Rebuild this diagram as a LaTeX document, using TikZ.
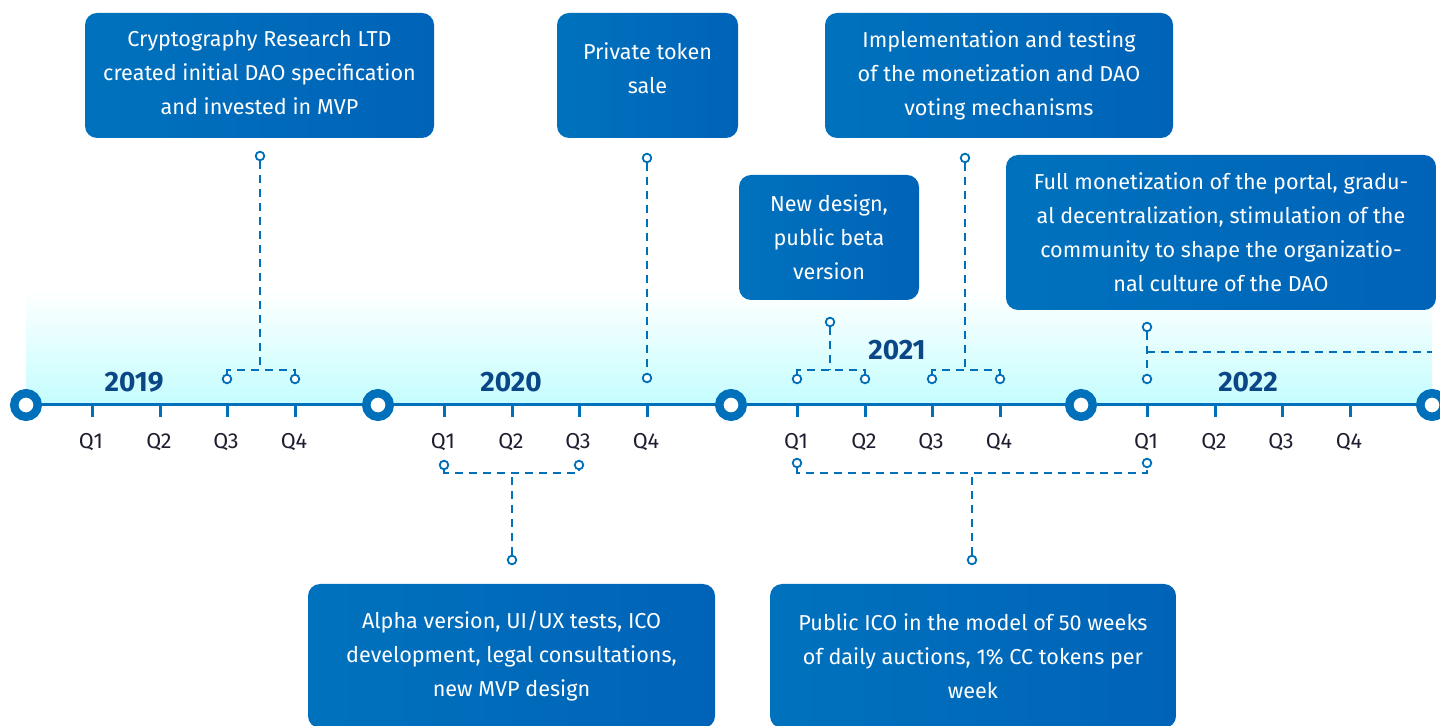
\documentclass[tikz,border=0pt]{standalone}
\usepackage{fontspec}
\setmainfont{Fira Sans}
\usepackage{xcolor}
\usepackage{tikz}

\definecolor{tl}{RGB}{0,112,186}
\definecolor{boxl}{RGB}{0,114,189}
\definecolor{boxr}{RGB}{0,99,184}
\definecolor{band}{RGB}{196,253,254}
\definecolor{yearblue}{RGB}{11,70,135}
\definecolor{qgray}{RGB}{30,30,48}

\tikzset{
  box/.style={rectangle,rounded corners=6pt,left color=boxl,right color=boxr,
    text=white,align=center,inner sep=0pt,
    font=\fontsize{10.8}{17}\selectfont},
  yearmark/.style={circle,draw=tl,fill=white,line width=4.25pt,inner sep=0pt,minimum size=11.75pt},
  pin/.style={circle,draw=tl,fill=white,line width=0.9pt,inner sep=0pt,minimum size=4.3pt},
  link/.style={draw=tl,line width=1.25pt,dash pattern=on 4pt off 3pt},
  axis/.style={draw=tl,line width=1.5pt},
  year/.style={text=yearblue,font=\bfseries\fontsize{14}{14}\selectfont},
  qlab/.style={text=qgray,font=\fontsize{10.8}{12}\selectfont}
}

\begin{document}
\begin{tikzpicture}[x=0.5pt,y=-0.5pt]
\path[use as bounding box] (0,0) rectangle (1440,726);
\clip (0,0) rectangle (1440,726);

% year bands
\shade[top color=white,bottom color=band] (26,290) rectangle (377.5,405);
\shade[top color=white,bottom color=band] (378.5,290) rectangle (730.5,405);
\shade[top color=white,bottom color=band] (731.5,290) rectangle (1080.5,405);
\shade[top color=white,bottom color=band] (1081.5,290) rectangle (1432,405);

% timeline
\node (y19) at (26,405) [yearmark] {};
\node (y20) at (378,405) [yearmark] {};
\node (y21) at (731,405) [yearmark] {};
\node (y22) at (1081,405) [yearmark] {};
\node (y23) at (1432,405) [yearmark] {};
\coordinate (end) at (1440,405);
\draw[axis] (y19) -- (y20) -- (y21) -- (y22) -- (y23) -- (end);

\foreach \yr/\x in {19/26,20/378,21/731,22/1081} {
  \foreach \q/\d in {1/66,2/134,3/201,4/269} {
    \draw[axis] (\x+\d,405) -- ++(0,12);
    \node (q\yr\q) at (\x+\d-1,442) [qlab] {Q\q};
  }
}

\node (t19) at (134,382) [year] {2019};
\node (t20) at (511,382) [year] {2020};
\node (t21) at (897,350) [year] {2021};
\node (t22) at (1248,382) [year] {2022};

% boxes
\node (b1) at (259.5,75.5) [box,minimum width=174.5pt,minimum height=62.5pt]
  {Cryptography Research LTD\\created initial DAO specification\\and invested in MVP\\[-14pt]};
\node (b2) at (647.5,75.5) [box,minimum width=90.5pt,minimum height=62.5pt]
  {Private token\\sale\\[-10pt]};
\node (b3) at (999,75.5) [box,minimum width=174pt,minimum height=62.5pt]
  {Implementation and testing\\of the monetization and DAO\\voting mechanisms};
\node (b4) at (829,237.5) [box,minimum width=90pt,minimum height=62.5pt]
  {New design,\\public beta\\version};
\node (b5) at (1221,232.5) [box,minimum width=215pt,minimum height=77.5pt]
  {Full monetization of the portal, gradu-\\al decentralization, stimulation of the\\community to shape the organizatio-\\nal culture of the DAO};
\node (b6) at (511.5,656) [box,minimum width=203.5pt,minimum height=72pt]
  {Alpha version, UI/UX tests, ICO\\development, legal consultations,\\new MVP design};
\node (b7) at (973,656) [box,minimum width=203pt,minimum height=72pt]
  {Public ICO in the model of 50 weeks\\of daily auctions, 1\% CC tokens per\\week};

% pins
\node (k1) at (260,156) [pin] {};
\node (k1a) at (227,379) [pin] {};
\node (k1b) at (295,379) [pin] {};
\coordinate (j1) at (260,370);
\node (k2) at (647,158) [pin] {};
\node (k2a) at (647,378) [pin] {};
\node (k3) at (965,158) [pin] {};
\node (k3a) at (932,379) [pin] {};
\node (k3b) at (1000,379) [pin] {};
\coordinate (j3) at (965,370);
\node (k4) at (830,322) [pin] {};
\node (k4a) at (797,379) [pin] {};
\node (k4b) at (865,379) [pin] {};
\coordinate (j4) at (830,370);
\node (k5) at (1147,327) [pin] {};
\node (k5a) at (1147,379) [pin] {};
\coordinate (j5) at (1147,352);
\coordinate (e5) at (1432,352);
\node (k6) at (512,560) [pin] {};
\node (k6a) at (444,465) [pin] {};
\node (k6b) at (579,465) [pin] {};
\coordinate (j6) at (512,473);
\node (k7) at (972,560) [pin] {};
\node (k7a) at (797,463) [pin] {};
\node (k7b) at (1147,463) [pin] {};
\coordinate (j7) at (972,473);

% links
\draw[link] (k1) -- (j1);
\draw[link] (k1a) |- (j1) -| (k1b);
\draw[link] (k2) -- (k2a);
\draw[link] (k3) -- (j3);
\draw[link] (k3a) |- (j3) -| (k3b);
\draw[link] (k4) -- (j4);
\draw[link] (k4a) |- (j4) -| (k4b);
\draw[link] (k5) -- (k5a);
\draw[link] (j5) -- (e5);
\draw[link] (k6) -- (j6);
\draw[link] (k6a) |- (j6) -| (k6b);
\draw[link] (k7) -- (j7);
\draw[link] (k7a) |- (j7) -| (k7b);
\end{tikzpicture}
\end{document}
